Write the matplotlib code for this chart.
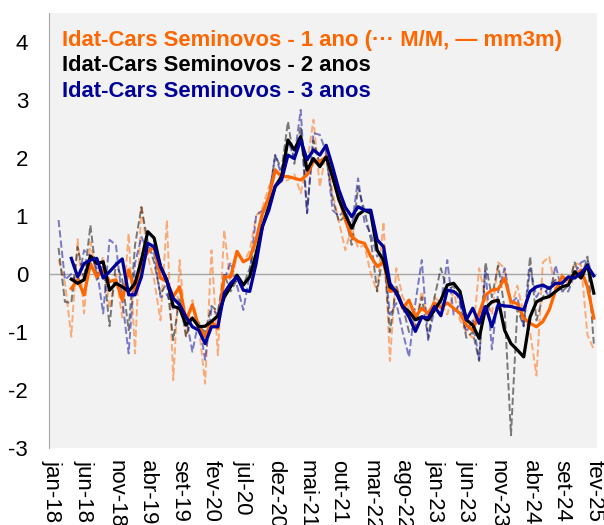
import matplotlib

matplotlib.use("Agg")
import matplotlib.pyplot as plt
import numpy as np

nan = np.nan

months = ["jan-18", "fev-18", "mar-18", "abr-18", "mai-18", "jun-18", "jul-18", "ago-18", "set-18", "out-18",
          "nov-18", "dez-18", "jan-19", "fev-19", "mar-19", "abr-19", "mai-19", "jun-19", "jul-19", "ago-19",
          "set-19", "out-19", "nov-19", "dez-19", "jan-20", "fev-20", "mar-20", "abr-20", "mai-20", "jun-20",
          "jul-20", "ago-20", "set-20", "out-20", "nov-20", "dez-20", "jan-21", "fev-21", "mar-21", "abr-21",
          "mai-21", "jun-21", "jul-21", "ago-21", "set-21", "out-21", "nov-21", "dez-21", "jan-22", "fev-22",
          "mar-22", "abr-22", "mai-22", "jun-22", "jul-22", "ago-22", "set-22", "out-22", "nov-22", "dez-22",
          "jan-23", "fev-23", "mar-23", "abr-23", "mai-23", "jun-23", "jul-23", "ago-23", "set-23", "out-23",
          "nov-23", "dez-23", "jan-24", "fev-24", "mar-24", "abr-24", "mai-24", "jun-24", "jul-24", "ago-24",
          "set-24", "out-24", "nov-24", "dez-24", "jan-25", "fev-25"]

# variação M/M (%)
mom_1ano = [nan, 0.25, -0.15, -1.08, 0.60, -0.68, 0.55, -0.05, 0.30, -0.60,
            0.00, -0.75, 0.70, -1.37, 1.19, 0.30, -0.10, -0.80, 0.93, -1.83,
            0.24, -1.08, -0.45, -0.90, -1.89, 0.41, -1.40, 0.76, -0.20, 0.35,
            0.20, 0.40, 1.00, 1.15, 1.50, 1.82, 1.59, 1.62, 1.72, 1.39,
            1.90, 2.66, 1.50, 2.14, 1.40, 0.90, 0.41, 0.80, 0.45, 0.50,
            0.00, -0.30, 0.90, -1.50, 0.10, -0.40, -0.60, -0.90, -0.30, -0.80,
            -0.40, -0.50, -0.70, -0.30, -0.80, -1.00, -1.10, 0.10, -0.40, -0.70,
            0.20, 0.10, -0.60, -0.20, -0.70, -1.00, -1.75, 0.20, 0.30, -0.30,
            0.00, -0.20, 0.20, 0.15, -1.05, -1.30]
mom_2anos = [nan, 0.45, -0.48, -0.50, 0.47, -0.10, 0.84, -0.10, 0.18, -0.90,
             0.20, -0.10, -0.97, 0.50, 1.15, 0.55, 0.20, -0.35, -0.15, -1.14,
             -0.40, -1.08, -0.75, -0.90, -1.00, -0.55, -0.65, 0.00, -0.30, -0.10,
             -0.20, 0.10, 0.60, 1.00, 1.30, 2.05, 1.80, 2.63, 1.90, 2.55,
             1.05, 2.30, 1.90, 2.00, 1.30, 0.90, 1.00, 0.50, 1.50, 1.10,
             0.60, -0.30, 0.40, -1.00, -0.20, -0.55, -1.00, -0.90, -0.40, -1.10,
             -0.40, 0.10, -0.30, -0.20, -0.50, -1.10, -1.00, -1.50, 0.20, -0.40,
             0.15, -0.60, -2.78, -0.60, -0.90, 0.30, -0.80, -0.40, -0.20, -0.10,
             -0.30, -0.20, 0.20, -0.10, 0.30, -1.20]
mom_3anos = [nan, 0.93, -0.10, 0.00, -0.20, 0.41, 0.30, 0.10, -0.68, 0.59,
             0.50, -0.45, -1.37, 0.18, 0.64, 0.40, 0.35, -0.40, -0.35, -0.60,
             -0.60, -0.75, -1.34, -0.80, -1.48, -0.60, -0.70, -0.10, 0.20, -0.20,
             -0.62, 0.00, 1.00, 1.10, 1.30, 2.05, 1.70, 2.30, 2.00, 2.83,
             1.05, 2.43, 2.40, 2.10, 1.10, 1.00, 1.10, 0.80, 1.65, 0.90,
             0.70, 0.30, 0.40, -0.70, -0.50, -1.00, -1.43, -0.50, 0.24, -1.14,
             -0.60, -0.50, 0.24, -0.70, -0.50, -1.00, -0.80, -1.48, 0.07, -1.30,
             -0.30, 0.10, -0.50, -0.40, -0.90, 0.10, -0.40, -0.20, -0.40, 0.15,
             -0.30, -0.30, 0.00, 0.20, 0.25, -0.10]

# média móvel 3 meses (%)
mm3m_1ano = [nan, nan, nan, -0.25, -0.10, -0.36, 0.18, -0.05, 0.07, -0.13,
             -0.10, -0.45, 0.07, -0.30, 0.18, 0.38, 0.47, -0.07, -0.13, -0.39,
             -0.22, -0.80, -0.53, -0.91, -1.08, -0.82, -0.94, -0.05, -0.05, 0.39,
             0.21, 0.27, 0.59, 1.05, 1.33, 1.79, 1.68, 1.68, 1.65, 1.62,
             1.71, 1.94, 1.94, 2.02, 1.68, 1.33, 0.93, 0.64, 0.56, 0.53,
             0.30, 0.13, 0.21, -0.30, -0.28, -0.59, -0.45, -0.74, -0.59, -0.68,
             -0.50, -0.58, -0.50, -0.59, -0.68, -0.88, -0.97, -0.68, -0.36, -0.28,
             -0.26, -0.07, -0.48, -0.51, -0.76, -0.85, -0.91, -0.82, -0.62, -0.28,
             -0.05, -0.10, -0.05, 0.07, -0.22, -0.76]
mm3m_2anos = [nan, nan, nan, -0.09, -0.16, -0.10, 0.31, 0.18, 0.21, -0.28,
              -0.16, -0.22, -0.30, -0.16, 0.24, 0.73, 0.62, 0.13, -0.10, -0.56,
              -0.59, -0.88, -0.76, -0.91, -0.90, -0.82, -0.72, -0.40, -0.22, -0.02,
              -0.19, -0.05, 0.35, 0.82, 1.16, 1.51, 1.68, 2.31, 2.14, 2.37,
              1.79, 1.99, 1.85, 2.02, 1.68, 1.28, 1.02, 0.79, 1.02, 1.10,
              1.05, 0.41, 0.24, -0.22, -0.30, -0.56, -0.65, -0.79, -0.74, -0.79,
              -0.62, -0.45, -0.19, -0.16, -0.30, -0.79, -0.88, -1.11, -0.59, -0.48,
              -0.45, -0.97, -1.20, -1.31, -1.43, -0.74, -0.48, -0.42, -0.39, -0.30,
              -0.22, -0.19, 0.04, -0.07, 0.16, -0.33]
mm3m_3anos = [nan, nan, nan, 0.27, -0.05, 0.18, 0.24, 0.27, -0.07, 0.04,
              0.16, 0.26, -0.36, -0.36, -0.05, 0.53, 0.47, 0.13, -0.13, -0.42,
              -0.53, -0.74, -0.91, -0.97, -1.20, -0.91, -0.91, -0.33, -0.16, -0.05,
              -0.28, -0.30, 0.18, 0.82, 1.10, 1.51, 1.62, 2.05, 1.99, 2.31,
              1.97, 2.14, 2.05, 2.22, 1.85, 1.45, 1.15, 0.99, 1.16, 1.10,
              1.10, 0.59, 0.47, -0.16, -0.33, -0.56, -0.74, -0.99, -0.74, -0.76,
              -0.56, -0.72, -0.28, -0.30, -0.39, -0.79, -0.59, -0.85, -0.56, -0.91,
              -0.53, -0.55, -0.56, -0.59, -0.62, -0.30, -0.22, -0.19, -0.25, -0.16,
              -0.16, -0.05, -0.07, 0.02, 0.14, -0.03]

titles = ["Idat-Cars Seminovos - 1 ano (\u00b7\u00b7\u00b7 M/M, \u2014 mm3m)",
          "Idat-Cars Seminovos - 2 anos",
          "Idat-Cars Seminovos - 3 anos"]
colors = ["#FF6600", "#000000", "#000099"]

plt.rcParams["font.family"] = ["Liberation Sans", "DejaVu Sans"]
plt.rcParams["axes.unicode_minus"] = False

fig = plt.figure(figsize=(6.04, 5.25), dpi=100)
ax = fig.add_axes([49 / 604, 77 / 525, 548 / 604, 435 / 525])
ax.set_facecolor("#f2f2f2")

x = np.arange(len(months))
for serie, color in zip([mom_1ano, mom_2anos, mom_3anos], colors):
    ax.plot(x, serie, color=color, alpha=0.5, lw=1.4, ls="--", zorder=2)
for serie, color in zip([mm3m_1ano, mm3m_2anos, mm3m_3anos], colors):
    ax.plot(x, serie, color=color, lw=2.3, zorder=3)

ax.axhline(0, color="#a6a6a6", lw=1, zorder=1)
ax.set_xlim(-0.5, len(months) - 0.5)
ax.set_ylim(-3, 4.5)
ax.set_yticks(range(-3, 5))
ax.set_xticks(x[::5], months[::5], rotation=-90, ha="center", va="top")
ax.tick_params(axis="y", length=0, pad=15, labelsize=16)
ax.tick_params(axis="x", length=0, pad=8.5, labelsize=16)
for side in ["top", "right", "bottom"]:
    ax.spines[side].set_visible(False)
ax.spines["left"].set_color("#a6a6a6")

for k, (title, color) in enumerate(zip(titles, colors)):
    ax.text(13 / 548, (402 - 25.3 * k) / 435, title, color=color, fontsize=15.8,
            fontweight="bold", transform=ax.transAxes, va="baseline", zorder=5)

fig.savefig("out.png", dpi=100)
